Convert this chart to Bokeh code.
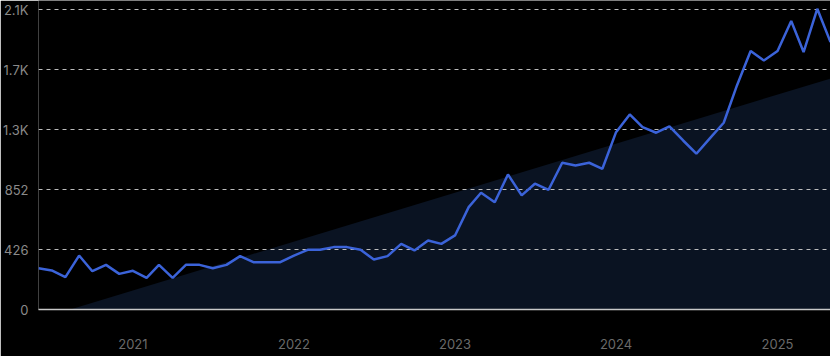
import pandas as pd
from bokeh.plotting import figure
from bokeh.models import FixedTicker, YearsTicker, DatetimeTickFormatter, Range1d, ColumnDataSource
from bokeh.embed import file_html
from bokeh.resources import INLINE

months = pd.date_range("2020-06-01", periods=60, freq="MS")
values = [293, 277, 230, 383, 272, 317, 253, 275, 225, 317,
          225, 317, 317, 293, 317, 379, 336, 336, 336, 383,
          424, 424, 443, 443, 424, 355, 379, 466, 419, 490,
          466, 526, 727, 829, 762, 959, 810, 893, 850, 1042,
          1023, 1042, 999, 1259, 1385, 1295, 1255, 1300, 1200, 1106,
          1217, 1326, 1591, 1835, 1768, 1835, 2048, 1828, 2135, 1899]

trend_dates = pd.to_datetime(["2020-08-12", "2025-05-01"])
trend_values = [0, 1640]

y_ticks = [0, 426, 852, 1278, 1704, 2130]
y_tick_labels = ["0", "426", "852", "1.3K", "1.7K", "2.1K"]

src = ColumnDataSource(dict(x=months, y=values))
tsrc = ColumnDataSource(dict(x=trend_dates, y=trend_values, y0=[0, 0]))

p = figure(width=830, height=356, x_axis_type="datetime", output_backend="svg",
           toolbar_location=None, min_border_left=38, min_border_right=0,
           min_border_top=0, min_border_bottom=47,
           x_range=Range1d(months[0], months[-1]), y_range=Range1d(0, 2194))
p.background_fill_color = "#000000"
p.border_fill_color = "#000000"
p.outline_line_color = None

p.varea(x="x", y1="y0", y2="y", source=tsrc, fill_color="#0a1322", fill_alpha=1.0, level="image")
p.line(x="x", y="y", source=src, line_color="#3b63d9", line_width=2.5)

# axes
p.yaxis.ticker = FixedTicker(ticks=y_ticks)
p.yaxis.major_label_overrides = {t: l for t, l in zip(y_ticks, y_tick_labels)}
p.yaxis.axis_line_color = None
p.yaxis.major_tick_line_color = None
p.yaxis.minor_tick_line_color = None
p.yaxis.major_label_text_color = "#8a8a8a"
p.yaxis.major_label_text_font = "Inter"
p.yaxis.major_label_text_font_size = "13px"
p.yaxis.major_label_standoff = 4

p.xaxis.ticker = YearsTicker()
p.xaxis.formatter = DatetimeTickFormatter(years="%Y", months="%Y", days="%Y")
p.xaxis.axis_line_color = "#c8c8c8"
p.xaxis.axis_line_width = 1.5
p.xaxis.major_tick_line_color = None
p.xaxis.minor_tick_line_color = None
p.xaxis.major_label_text_color = "#6a6a6a"
p.xaxis.major_label_text_font = "Inter"
p.xaxis.major_label_text_font_size = "13px"
p.xaxis.major_label_standoff = 23

p.xgrid.grid_line_color = None
p.ygrid.grid_line_color = "#d0d0d0"
p.ygrid.grid_line_dash = "4 4"
p.ygrid.grid_line_width = 1
p.ygrid.grid_line_alpha = 0.9

open("out.html", "w").write(file_html(p, INLINE))
